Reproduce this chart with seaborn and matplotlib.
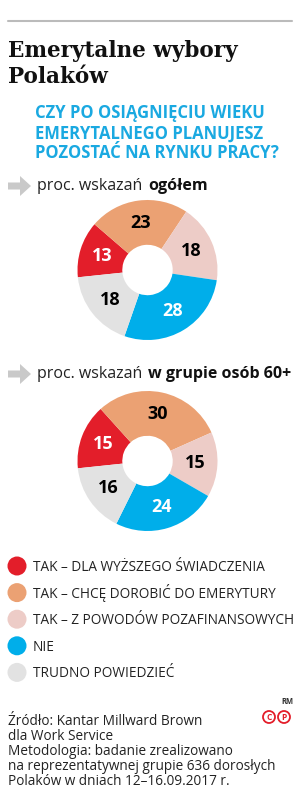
import matplotlib
matplotlib.use("Agg")
import matplotlib.pyplot as plt
from matplotlib.patches import Circle, FancyArrow
import seaborn as sns

# Dane
categories = [
    "TAK – DLA WYŻSZEGO ŚWIADCZENIA",
    "TAK – CHCĘ DOROBIĆ DO EMERYTURY",
    "TAK – Z POWODÓW POZAFINANSOWYCH",
    "NIE",
    "TRUDNO POWIEDZIEĆ",
]
ogolem = [13, 23, 18, 28, 18]
grupa_60 = [15, 30, 15, 24, 16]
label_colors = ["white", "black", "black", "white", "black"]

title_lines = ["Emerytalne wybory", "Polaków"]
question_lines = ["CZY PO OSIĄGNIĘCIU WIEKU", "EMERYTALNEGO PLANUJESZ", "POZOSTAĆ NA RYNKU PRACY?"]
footer_lines = [
    "Źródło: Kantar Millward Brown",
    "dla Work Service",
    "Metodologia: badanie zrealizowano",
    "na reprezentatywnej grupie 636 dorosłych",
    "Polaków w dniach 12–16.09.2017 r.",
]

sns.set_theme(style="white")
plt.rcParams["font.family"] = ["Open Sans", "DejaVu Sans"]
palette = sns.color_palette(["#E31E2A", "#EBA173", "#EDCCC7", "#00AEEA", "#E2E2E2"])
BLUE = "#1AA9E1"
ARROW = "#C9C9C9"

W, H = 308, 808
fig = plt.figure(figsize=(W / 100, H / 100), dpi=100)
bg = fig.add_axes([0, 0, 1, 1])
bg.set_xlim(0, W)
bg.set_ylim(H, 0)
bg.axis("off")

# linia u gory
bg.plot([8, 292], [21, 21], color="#BBBBBB", lw=1.5)

# tytul
for y, line in zip([57, 83], title_lines):
    bg.text(8, y, line, fontsize=15.5, fontweight="bold", family="DejaVu Serif",
            va="baseline", color="#111111")

# pytanie
for y, line in zip([118, 138.5, 158], question_lines):
    bg.text(35, y, line, fontsize=12, fontweight="bold", color=BLUE, va="baseline")


def heading(y, bold_part):
    bg.add_patch(FancyArrow(8, y - 4, 12, 0, width=7, head_width=20, head_length=11,
                            color=ARROW, lw=0))
    t = bg.text(37, y, "proc. wskazań", fontsize=11.5, va="baseline", color="#222222")
    bg.annotate(bold_part, xy=(1, 0), xycoords=t, xytext=(4.5, 0), textcoords="offset points",
                va="bottom", ha="left", fontsize=11.5, fontweight="bold", color="#111111")


def donut(values, cx, cy, r=70):
    ax = fig.add_axes([(cx - r) / W, 1 - (cy + r) / H, 2 * r / W, 2 * r / H])
    wedges, _, autotexts = ax.pie(
        values, colors=palette, startangle=186, counterclock=False, radius=1,
        wedgeprops=dict(width=0.64, linewidth=0),
        autopct=lambda p: f"{p:.0f}", pctdistance=0.68,
        textprops=dict(fontsize=13, fontweight="bold"),
    )
    for t, c in zip(autotexts, label_colors):
        t.set_color(c)
    ax.set_xlim(-1, 1)
    ax.set_ylim(-1, 1)
    return ax


heading(190, "ogółem")
donut(ogolem, 147.5, 270)
heading(378, "w grupie osób 60+")
donut(grupa_60, 147.5, 461)

# legenda
for i, (cat, col) in enumerate(zip(categories, palette)):
    y = 566 + i * 26.6
    bg.add_patch(Circle((17, y), 9.5, color=col, lw=0))
    bg.text(33, y + 5, cat, fontsize=9.8, va="baseline", color="#222222")

# stopka
for i, line in enumerate(footer_lines):
    bg.text(8, 725 + i * 15, line, fontsize=9.8, va="baseline", color="#222222")

bg.text(287, 704, "RM", fontsize=5.5, fontweight="bold", ha="center", va="baseline", color="#333333")
for x, ch in [(269, "C"), (284, "P")]:
    bg.add_patch(Circle((x, 717), 6, fill=False, ec="#E31E2A", lw=1.3))
    bg.text(x, 717.5, ch, fontsize=6, fontweight="bold", ha="center", va="center", color="#E31E2A")

fig.savefig("out.png", dpi=100, facecolor="white")
